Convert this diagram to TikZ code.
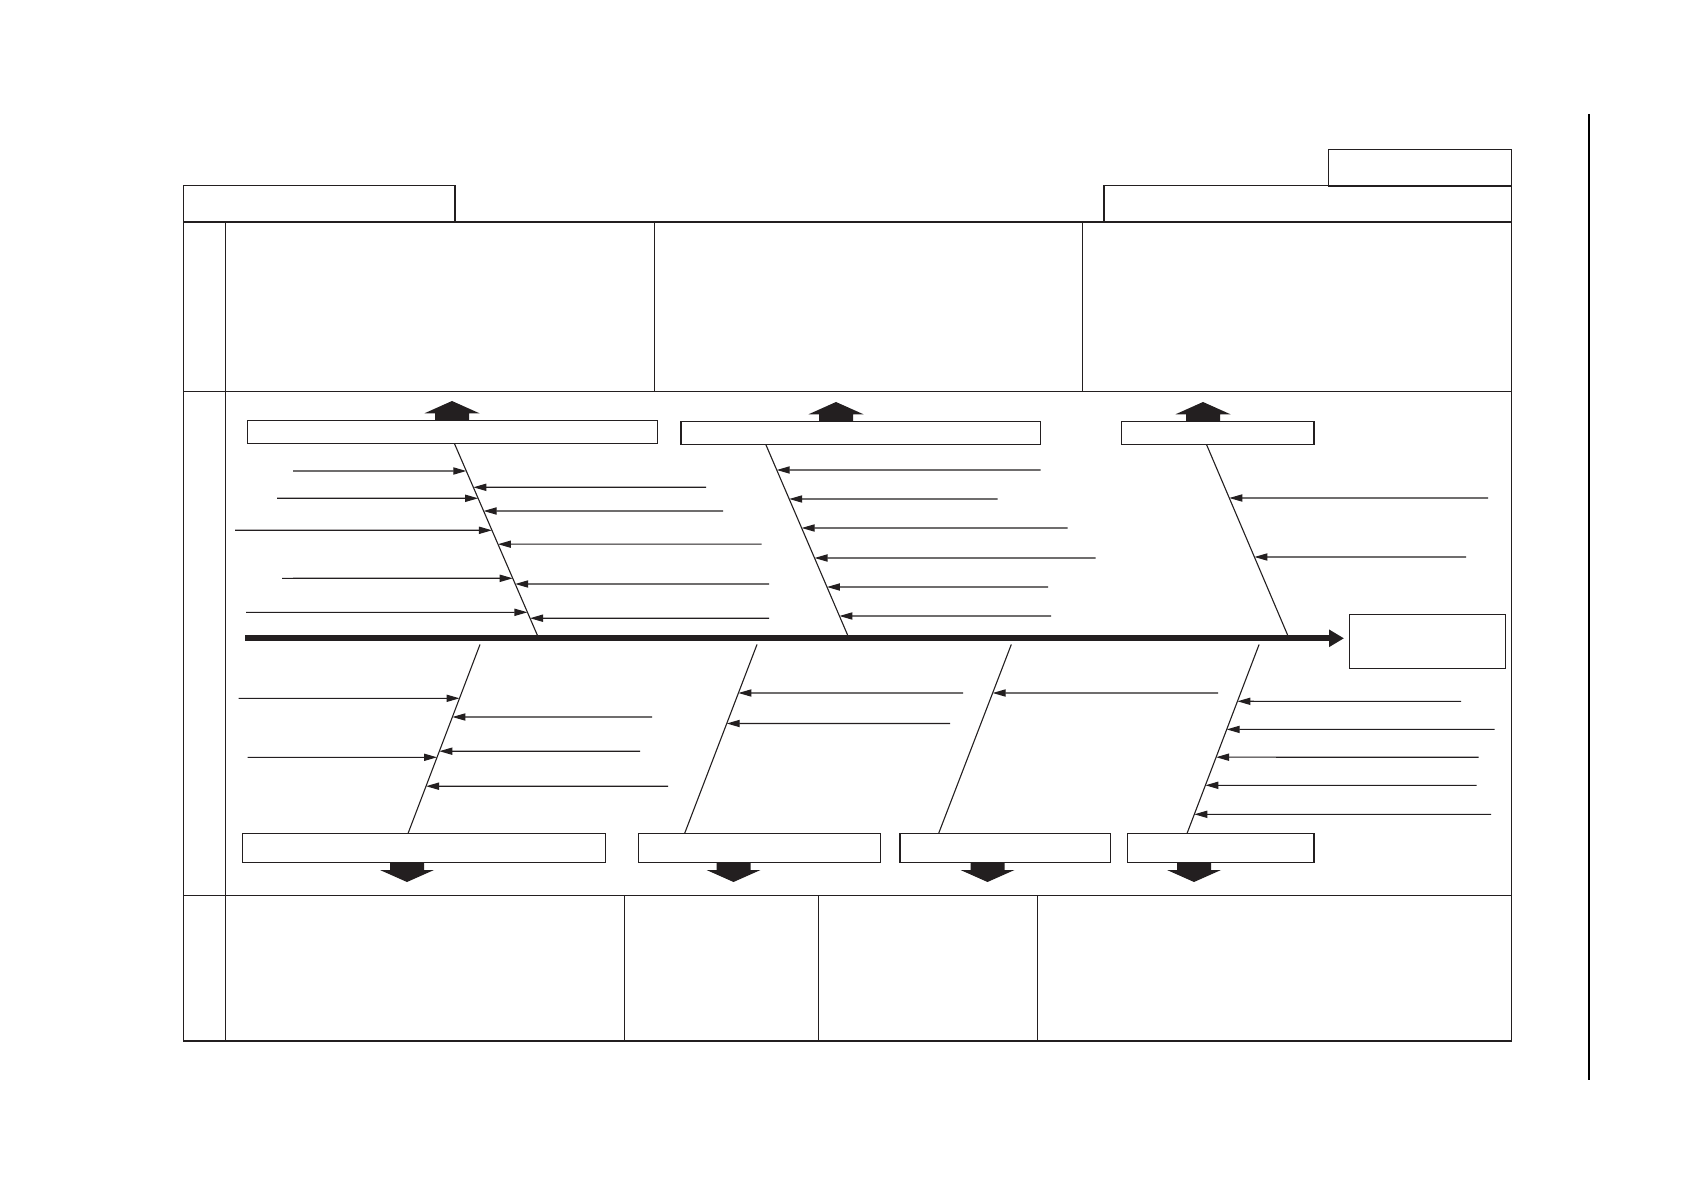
\documentclass[tikz,border=0pt]{standalone}
\usetikzlibrary{arrows.meta,calc}
\definecolor{ink}{HTML}{231F20}
\begin{document}
\begin{tikzpicture}[x=0.5pt,y=-0.5pt,
  frame/.style={draw=ink,line width=0.7pt},
  cbox/.style={draw=ink,line width=0.7pt,anchor=north west,inner sep=0pt,outer sep=0pt,fill=white},
  sz/.style args={#1/#2}{minimum width=#1*0.5pt,minimum height=#2*0.5pt},
  bone/.style={draw=ink,line width=0.55pt},
  arr/.style={draw=ink,line width=0.55pt,-{Triangle[length=6.5pt,width=3.6pt]}},
  spine/.style={draw=ink,line width=2.9pt,-{Triangle[length=7.5pt,width=8.3pt]}},
  uparrow/.pic={\fill[ink] (-17,0) -- (-17,-7.2) -- (-27.5,-7.2) -- (0,-19.5) -- (27.5,-7.2) -- (17,-7.2) -- (17,0) -- cycle;},
  downarrow/.pic={\fill[ink] (-17,0) -- (-17,7.5) -- (-27,7.5) -- (0,19.5) -- (27,7.5) -- (17,7.5) -- (17,0) -- cycle;},
]
\useasboundingbox (0,0) rectangle (1682,1192);
\fill[white] (0,0) rectangle (1682,1192);

% header tabs
\node[cbox,sz=271.4/36.4] (tabL) at (183.4,185.6) {};
\node[cbox,sz=407.6/36.4] (tabR) at (1103.8,185.6) {};
\node[cbox,sz=183.1/36.6] (tabS) at (1328.3,149.3) {};

% main frame
\draw[frame] (183.4,222) rectangle (1511.4,1041);
\draw[frame] (183.4,391.5) -- (1511.4,391.5);
\draw[frame] (183.4,895.7) -- (1511.4,895.7);
\draw[frame] (225.3,222) -- (225.3,1041);
\draw[frame] (654.4,222) -- (654.4,391.5);
\draw[frame] (1082.4,222) -- (1082.4,391.5);
\draw[frame] (624.3,895.7) -- (624.3,1041);
\draw[frame,line width=0.5pt] (818.5,895.7) -- (818.5,1041);
\draw[frame,line width=0.5pt] (1037.3,895.7) -- (1037.3,1041);

% far right line
\draw[black,line width=1pt] (1588.7,114) -- (1588.7,1080);

% category boxes (upper)
\node[cbox,sz=410/22.8] (B1) at (247.5,420.5) {};
\node[cbox,sz=359.5/22.8] (B2) at (681,421.5) {};
\node[cbox,sz=192.5/23] (B3) at (1121.3,421.5) {};
\pic at (452,420.5) {uparrow};
\pic at (836,421.5) {uparrow};
\pic at (1203,421.5) {uparrow};

% category boxes (lower)
\node[cbox,sz=363.4/29] (L1) at (242.3,833.5) {};
\node[cbox,sz=242/29] (L2) at (638.3,833.5) {};
\node[cbox,sz=210.5/29] (L3) at (899.9,833.5) {};
\node[cbox,sz=186.4/29] (L4) at (1127.4,833.5) {};
\pic at (407,862.5) {downarrow};
\pic at (733.5,862.5) {downarrow};
\pic at (987.5,862.5) {downarrow};
\pic at (1194,862.5) {downarrow};

% effect box and spine
\node[cbox,sz=156.3/54] (E) at (1349.4,614.6) {};
\coordinate (tail) at (245,638.3);
\coordinate (head) at (1344,638.3);
\draw[spine] (tail) -- (head);

% upper bones
\coordinate (u1t) at (454.4,443.5); \coordinate (u1b) at (538.7,638.3);
\coordinate (u2t) at (765.7,444.3); \coordinate (u2b) at (849,638.3);
\coordinate (u3t) at (1206.5,444.5); \coordinate (u3b) at (1289,638.3);
\draw[bone] (u1t) -- (u1b);
\draw[bone] (u2t) -- (u2b);
\draw[bone] (u3t) -- (u3b);

% lower bones
\coordinate (l1t) at (480,644.5); \coordinate (l1b) at (408,833.5);
\coordinate (l2t) at (757,644.5); \coordinate (l2b) at (684.6,833.5);
\coordinate (l3t) at (1011.3,644.5); \coordinate (l3b) at (938.6,833.5);
\coordinate (l4t) at (1259.1,644.5); \coordinate (l4b) at (1187,833.5);
\draw[bone] (l1t) -- (l1b);
\draw[bone] (l2t) -- (l2b);
\draw[bone] (l3t) -- (l3b);
\draw[bone] (l4t) -- (l4b);

% sub-cause arrows, upper bone 1
\foreach \sx/\yy [count=\i] in {293/471, 277/498.3, 235/530.3, 282/578.3, 246/612.3} {
  \coordinate (a1l\i) at (\sx,\yy);
  \coordinate (p1l\i) at ($(u1t)!{(\yy-443.5)/(638.3-443.5)}!(u1b)$);
  \draw[arr] (a1l\i) -- (p1l\i);
}
\foreach \sx/\yy [count=\i] in {706/487.3, 723/511, 761.6/544.2, 769/584, 769/618.2} {
  \coordinate (a1r\i) at (\sx,\yy);
  \coordinate (p1r\i) at ($(u1t)!{(\yy-443.5)/(638.3-443.5)}!(u1b)$);
  \draw[arr] (a1r\i) -- (p1r\i);
}
% upper bone 2
\foreach \sx/\yy [count=\i] in {1040.7/470, 997.7/499, 1067.5/528, 1095.5/558, 1048/587, 1051/616} {
  \coordinate (a2r\i) at (\sx,\yy);
  \coordinate (p2r\i) at ($(u2t)!{(\yy-444.3)/(638.3-444.3)}!(u2b)$);
  \draw[arr] (a2r\i) -- (p2r\i);
}
% upper bone 3
\foreach \sx/\yy [count=\i] in {1488/498, 1466/557} {
  \coordinate (a3r\i) at (\sx,\yy);
  \coordinate (p3r\i) at ($(u3t)!{(\yy-444.5)/(638.3-444.5)}!(u3b)$);
  \draw[arr] (a3r\i) -- (p3r\i);
}
% lower bone 1
\foreach \sx/\yy [count=\i] in {238.5/698.3, 247.5/757.3} {
  \coordinate (b1l\i) at (\sx,\yy);
  \coordinate (q1l\i) at ($(l1t)!{(\yy-644.5)/(833.5-644.5)}!(l1b)$);
  \draw[arr] (b1l\i) -- (q1l\i);
}
\foreach \sx/\yy [count=\i] in {652/717, 640/751.2, 668/786.2} {
  \coordinate (b1r\i) at (\sx,\yy);
  \coordinate (q1r\i) at ($(l1t)!{(\yy-644.5)/(833.5-644.5)}!(l1b)$);
  \draw[arr] (b1r\i) -- (q1r\i);
}
% lower bone 2
\foreach \sx/\yy [count=\i] in {963/693, 950/723.5} {
  \coordinate (b2r\i) at (\sx,\yy);
  \coordinate (q2r\i) at ($(l2t)!{(\yy-644.5)/(833.5-644.5)}!(l2b)$);
  \draw[arr] (b2r\i) -- (q2r\i);
}
% lower bone 3
\foreach \sx/\yy [count=\i] in {1218/693} {
  \coordinate (b3r\i) at (\sx,\yy);
  \coordinate (q3r\i) at ($(l3t)!{(\yy-644.5)/(833.5-644.5)}!(l3b)$);
  \draw[arr] (b3r\i) -- (q3r\i);
}
% lower bone 4
\foreach \sx/\yy [count=\i] in {1461/701.3, 1494.5/729.4, 1478.5/757.2, 1476.5/785.3, 1491/814.3} {
  \coordinate (b4r\i) at (\sx,\yy);
  \coordinate (q4r\i) at ($(l4t)!{(\yy-644.5)/(833.5-644.5)}!(l4b)$);
  \draw[arr] (b4r\i) -- (q4r\i);
}
\end{tikzpicture}
\end{document}
